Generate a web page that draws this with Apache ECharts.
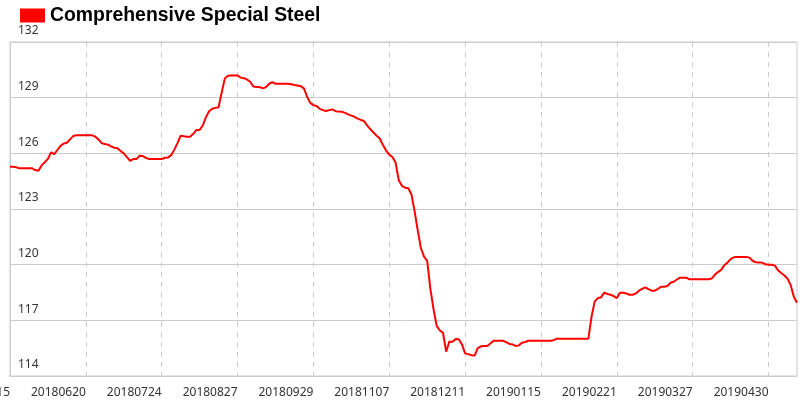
<!DOCTYPE html>
<html>
<head>
<meta charset="utf-8">
<script src="https://cdn.jsdelivr.net/npm/echarts@6/dist/echarts.min.js"></script>
<style>html,body{margin:0;padding:0;background:#fff}#c{width:805px;height:412px}</style>
</head>
<body>
<div id="c"></div>
<script>
const seriesName = 'Comprehensive Special Steel';
const dates = [
'20180515','20180516','20180517','20180521','20180522','20180523','20180524','20180525','20180528','20180529',
'20180530','20180531','20180601','20180604','20180605','20180606','20180607','20180608','20180611','20180612',
'20180613','20180614','20180615','20180619','20180620','20180621','20180622','20180625','20180626','20180627',
'20180628','20180629','20180702','20180703','20180704','20180705','20180706','20180709','20180710','20180711',
'20180712','20180713','20180716','20180717','20180718','20180719','20180720','20180723','20180724','20180725',
'20180726','20180727','20180730','20180731','20180801','20180802','20180803','20180806','20180807','20180808',
'20180809','20180810','20180813','20180814','20180815','20180816','20180817','20180820','20180821','20180822',
'20180823','20180824','20180827','20180828','20180829','20180830','20180831','20180903','20180904','20180905',
'20180906','20180907','20180910','20180911','20180912','20180913','20180914','20180917','20180918','20180919',
'20180920','20180921','20180925','20180926','20180927','20180928','20180929','20180930','20181008','20181009',
'20181010','20181011','20181012','20181015','20181016','20181017','20181018','20181019','20181022','20181023',
'20181024','20181025','20181026','20181029','20181030','20181031','20181101','20181102','20181105','20181106',
'20181107','20181108','20181109','20181112','20181113','20181114','20181115','20181116','20181119','20181120',
'20181121','20181122','20181123','20181126','20181127','20181128','20181129','20181130','20181203','20181204',
'20181205','20181206','20181207','20181210','20181211','20181212','20181213','20181214','20181217','20181218',
'20181219','20181220','20181221','20181224','20181225','20181226','20181227','20181228','20181229','20190102',
'20190103','20190104','20190107','20190108','20190109','20190110','20190111','20190114','20190115','20190116',
'20190117','20190118','20190121','20190122','20190123','20190124','20190125','20190128','20190129','20190130',
'20190131','20190201','20190202','20190203','20190211','20190212','20190213','20190214','20190215','20190218',
'20190219','20190220','20190221','20190222','20190225','20190226','20190227','20190228','20190301','20190304',
'20190305','20190306','20190307','20190308','20190311','20190312','20190313','20190314','20190315','20190318',
'20190319','20190320','20190321','20190322','20190325','20190326','20190327','20190328','20190329','20190401',
'20190402','20190403','20190404','20190408','20190409','20190410','20190411','20190412','20190415','20190416',
'20190417','20190418','20190419','20190422','20190423','20190424','20190425','20190426','20190428','20190429',
'20190430','20190505','20190506','20190507','20190508','20190509','20190510','20190513','20190514','20190515'
];
const values = [
125.28,125.28,125.25,125.19,125.19,125.19,125.19,125.19,125.10,125.06,
125.35,125.52,125.70,126.05,125.96,126.18,126.40,126.53,126.57,126.75,
126.93,126.97,126.97,126.97,126.97,126.97,126.97,126.90,126.75,126.55,
126.50,126.47,126.38,126.30,126.27,126.12,126.00,125.80,125.60,125.69,
125.69,125.87,125.85,125.76,125.69,125.69,125.69,125.69,125.69,125.76,
125.78,125.90,126.20,126.55,126.95,126.92,126.90,126.90,127.05,127.26,
127.26,127.50,127.95,128.27,128.40,128.45,128.48,129.30,130.05,130.18,
130.20,130.20,130.20,130.08,130.05,129.98,129.86,129.60,129.58,129.57,
129.50,129.57,129.75,129.83,129.75,129.75,129.75,129.75,129.75,129.72,
129.68,129.65,129.62,129.50,129.05,128.72,128.60,128.55,128.40,128.33,
128.28,128.33,128.37,128.27,128.25,128.24,128.18,128.10,128.03,127.97,
127.87,127.80,127.74,127.50,127.30,127.12,126.95,126.80,126.45,126.15,
125.93,125.80,125.50,124.55,124.25,124.15,124.12,123.80,122.90,121.85,
120.90,120.43,120.21,118.70,117.60,116.70,116.45,116.33,115.31,115.85,
115.85,116.00,115.98,115.70,115.22,115.18,115.12,115.10,115.50,115.60,
115.62,115.62,115.75,115.90,115.90,115.90,115.90,115.82,115.73,115.70,
115.62,115.65,115.79,115.83,115.90,115.90,115.90,115.90,115.90,115.90,
115.90,115.90,115.93,116.01,116.01,116.01,116.01,116.01,116.01,116.01,
116.01,116.01,116.01,116.01,117.20,118.02,118.19,118.24,118.49,118.42,
118.38,118.30,118.20,118.49,118.49,118.45,118.38,118.38,118.45,118.60,
118.70,118.78,118.68,118.60,118.60,118.70,118.81,118.81,118.85,119.03,
119.08,119.20,119.30,119.30,119.30,119.21,119.21,119.21,119.21,119.21,
119.21,119.21,119.25,119.45,119.60,119.72,119.97,120.11,120.30,120.40,
120.41,120.41,120.41,120.41,120.38,120.20,120.13,120.12,120.11,120.02,
120.00,120.00,119.95,119.70,119.55,119.42,119.25,118.90,118.27,117.95
];
const yMin = 114, yMax = 132, yStep = 3;
const labelEvery = 24;

const chart = echarts.init(document.getElementById('c'), null, {renderer: 'canvas'});
chart.setOption({
  animation: false,
  backgroundColor: '#fff',
  legend: {
    left: 20, top: 6,
    padding: 0,
    icon: 'rect',
    itemWidth: 25, itemHeight: 14,
    data: [seriesName],
    textStyle: {fontSize: 19.4, fontWeight: 'bold', color: '#000', fontFamily: 'Liberation Sans, Arial, sans-serif'}
  },
  grid: {left: 10, right: 8, top: 42, bottom: 36, show: true, borderColor: '#ccc', borderWidth: 1, containLabel: false, outerBoundsMode: 'none'},
  xAxis: {
    type: 'category',
    data: dates,
    boundaryGap: false,
    axisLine: {show: true, lineStyle: {color: '#ccc'}},
    axisTick: {show: false},
    axisLabel: {
      interval: labelEvery - 1,
      align: 'right',
      margin: 11,
      color: '#333',
      fontSize: 12,
      fontFamily: 'Noto Sans, sans-serif'
    },
    splitLine: {show: true, interval: labelEvery - 1, lineStyle: {color: '#ccc', type: [5, 5]}}
  },
  yAxis: {
    type: 'value',
    min: yMin, max: yMax, interval: yStep,
    axisLine: {show: true, lineStyle: {color: '#ccc'}},
    axisTick: {show: false},
    axisLabel: {
      inside: true,
      margin: 8,
      verticalAlign: 'bottom',
      padding: [0, 0, 5, 0],
      color: '#333',
      fontSize: 12,
      fontFamily: 'Noto Sans, sans-serif'
    },
    splitLine: {show: true, lineStyle: {color: '#ccc'}}
  },
  series: [{
    name: seriesName,
    type: 'line',
    data: values,
    showSymbol: false,
    symbol: 'none',
    color: '#ff0000',
    lineStyle: {color: '#ff0000', width: 2}
  }]
});
</script>
</body>
</html>
